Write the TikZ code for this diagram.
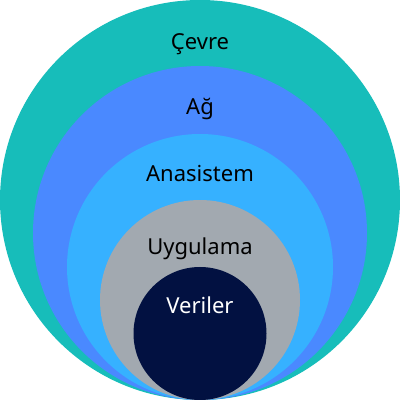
\documentclass[tikz,border=0pt]{standalone}
\usepackage{fontspec}
\setmainfont{Noto Sans}
\definecolor{cteal}{HTML}{17BDBA}
\definecolor{cblue}{HTML}{4A89FF}
\definecolor{ccyan}{HTML}{36B1FF}
\definecolor{cgray}{HTML}{A2A9B0}
\definecolor{cnavy}{HTML}{021141}
\tikzset{ring/.style={draw=none},lbl/.style={font=\fontsize{22}{26}\selectfont,text=black,anchor=base}}
\begin{document}
\begin{tikzpicture}[x=1pt,y=1pt]
\useasboundingbox (0,0) rectangle (400,400);
\fill[cteal] (200,200) circle (200);
\fill[cblue] (200,167) circle (167);
\fill[ccyan] (200,133) circle (133);
\fill[cgray] (200,100) circle (100);
\fill[cnavy] (200,66.5) circle (66.5);
\node[lbl] (c) at (200,350) {Çevre};
\node[lbl] (a) at (200,285) {Ağ};
\node[lbl] (s) at (200,218) {Anasistem};
\node[lbl] (u) at (200,145) {Uygulama};
\node[lbl,text=white] (v) at (200,86) {Veriler};
\end{tikzpicture}
\end{document}
